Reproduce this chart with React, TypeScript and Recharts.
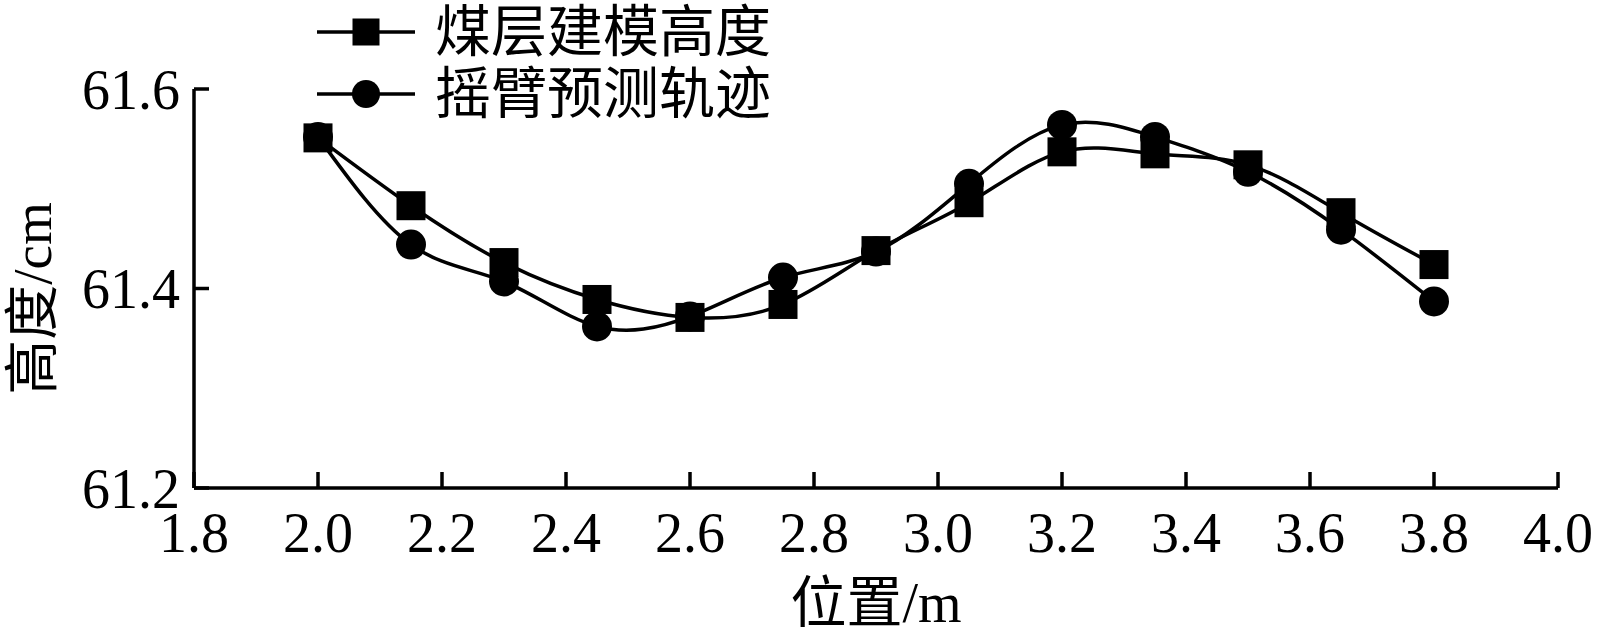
import React from "react";
import { LineChart, Line, XAxis, YAxis, Label } from "recharts";

const positions = [2.0, 2.15, 2.3, 2.45, 2.6, 2.75, 2.9, 3.05, 3.2, 3.35, 3.5, 3.65, 3.8];
const coalSeamHeight = [61.551, 61.483, 61.426, 61.389, 61.371, 61.384, 61.438, 61.486, 61.537, 61.535, 61.524, 61.476, 61.424];
const armPredicted = [61.552, 61.444, 61.407, 61.362, 61.372, 61.411, 61.437, 61.505, 61.564, 61.552, 61.517, 61.459, 61.387];
const xTicks = [1.8, 2.0, 2.2, 2.4, 2.6, 2.8, 3.0, 3.2, 3.4, 3.6, 3.8, 4.0];
const yTicks = [61.2, 61.4, 61.6];
const seriesNames = ["煤层建模高度", "摇臂预测轨迹"];

const data = positions.map((x, i) => ({ x, coal: coalSeamHeight[i], arm: armPredicted[i] }));

const FONT = "'Liberation Serif', 'Noto Sans CJK SC', serif";

const SquareDot = (props: any) => {
  const { cx, cy, index } = props;
  if (cx == null || cy == null) return null;
  return <rect key={`sq-${index}`} x={cx - 14.5} y={cy - 14.5} width={29} height={29} fill="#000" />;
};

const CircleDot = (props: any) => {
  const { cx, cy, index } = props;
  if (cx == null || cy == null) return null;
  return <circle key={`ci-${index}`} cx={cx} cy={cy} r={15} fill="#000" />;
};

export default function App() {
  return (
    <div style={{ position: "absolute", left: 0, top: 0, width: 1599, height: 636, background: "#fff" }}>
      <LineChart
        width={1599}
        height={636}
        data={data}
        margin={{ top: 89, right: 41, left: 0, bottom: 0 }}
        style={{ fontFamily: FONT }}
      >
        <XAxis
          dataKey="x"
          type="number"
          domain={[1.8, 4.0]}
          ticks={xTicks}
          tickFormatter={(v: number) => v.toFixed(1)}
          height={148}
          tickSize={-16}
          tickMargin={40}
          axisLine={{ stroke: "#000", strokeWidth: 3.5 }}
          tickLine={{ stroke: "#000", strokeWidth: 3.5 }}
          tick={{ fill: "#000", fontSize: 56, fontFamily: FONT }}
          interval={0}
        >
          <Label
            content={(p: any) => {
              const vb = p.viewBox || {};
              const cx = vb.x + vb.width / 2;
              return (
                <text x={cx} y={603} textAnchor="middle" dominantBaseline="central" fontSize={56} fontFamily={FONT} fill="#000">
                  位置/m
                </text>
              );
            }}
          />
        </XAxis>
        <YAxis
          type="number"
          domain={[61.2, 61.6]}
          ticks={yTicks}
          tickFormatter={(v: number) => v.toFixed(1)}
          width={194}
          tickSize={-15}
          tickMargin={29}
          axisLine={{ stroke: "#000", strokeWidth: 3.5 }}
          tickLine={{ stroke: "#000", strokeWidth: 3.5 }}
          tick={{ fill: "#000", fontSize: 56, fontFamily: FONT }}
          interval={0}
        >
          <Label
            content={(p: any) => {
              const vb = p.viewBox || {};
              const cx = vb.x + 32;
              const cy = vb.y + vb.height / 2 + 10;
              return (
                <text
                  x={cx}
                  y={cy}
                  textAnchor="middle"
                  dominantBaseline="central"
                  fontSize={55}
                  fontFamily={FONT}
                  fill="#000"
                  transform={`rotate(-90 ${cx} ${cy})`}
                >
                  高度/cm
                </text>
              );
            }}
          />
        </YAxis>
        <Line
          type="natural"
          dataKey="coal"
          name={seriesNames[0]}
          stroke="#000"
          strokeWidth={3.5}
          dot={SquareDot}
          activeDot={false}
          isAnimationActive={false}
        />
        <Line
          type="natural"
          dataKey="arm"
          name={seriesNames[1]}
          stroke="#000"
          strokeWidth={3.5}
          dot={CircleDot}
          activeDot={false}
          isAnimationActive={false}
        />
      </LineChart>
      <svg style={{ position: "absolute", left: 0, top: 0 }} width={820} height={130}>
        {seriesNames.map((name, i) => {
          const cy = i === 0 ? 32 : 94;
          return (
            <g key={name}>
              <line x1={317} x2={415} y1={cy} y2={cy} stroke="#000" strokeWidth={3.5} />
              {i === 0 ? (
                <rect x={366 - 13.5} y={cy - 13.5} width={27} height={27} fill="#000" />
              ) : (
                <circle cx={366} cy={cy} r={14} fill="#000" />
              )}
              <text x={435} y={cy} dominantBaseline="central" fontSize={56} fontFamily={FONT} fill="#000">
                {name}
              </text>
            </g>
          );
        })}
      </svg>
    </div>
  );
}
